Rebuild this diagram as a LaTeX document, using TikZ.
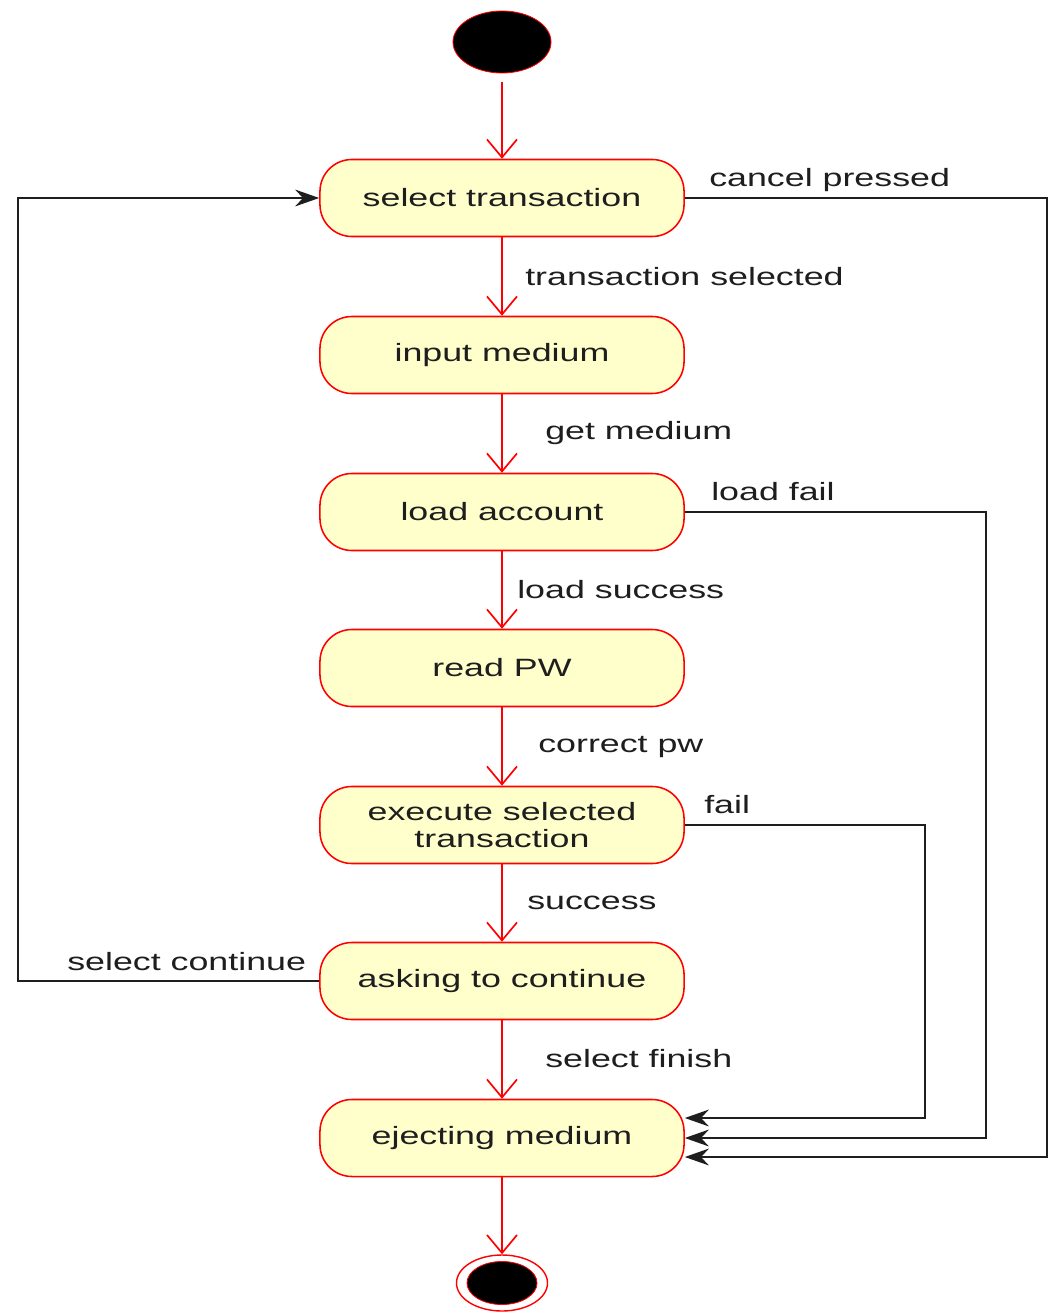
\documentclass[tikz,border=0pt]{standalone}
\usepackage{graphicx}
\usepackage{fontspec}
\setmainfont{Liberation Sans}
\usetikzlibrary{arrows.meta,shapes.geometric,calc}
\definecolor{stfill}{RGB}{255,255,204}
\definecolor{txt}{RGB}{30,30,30}
\newcommand\stxt[1]{\scalebox{1.43}[1]{#1}}
\newcommand\ltxt[1]{\raisebox{-1.5pt}{\scalebox{1.43}[1]{#1}}}
\tikzset{
  state/.style={draw=red, fill=stfill, line width=1.1pt, rounded corners=0.8cm,
    minimum width=9.1cm, minimum height=1.925cm, inner sep=0pt, text=txt,
    font=\fontsize{17.8}{19.4}\selectfont, align=center},
  flow/.style={draw=red, line width=1.2pt, -{Straight Barb[length=0.45cm,width=0.75cm]}},
  back/.style={draw=txt, line width=1.3pt, -{Stealth[length=0.6cm,width=0.42cm]}},
  lbl/.style={font=\fontsize{17.8}{19.4}\selectfont, text=txt, inner sep=0pt, anchor=west},
}
\begin{document}
\begin{tikzpicture}[x=0.025cm,y=-0.025cm]
\useasboundingbox[fill=white] (0,0) rectangle (1051,1312);
% states
\node[ellipse, fill=black, draw=red, line width=0.6pt, minimum width=2.45cm, minimum height=1.55cm, inner sep=0pt] (init) at (502,42) {};
\node[state] (st) at (502,198) {\ltxt{select transaction}};
\node[state] (in) at (502,355) {\ltxt{input medium}};
\node[state] (la) at (502,512) {\ltxt{load account}};
\node[state] (rp) at (502,668) {\ltxt{read PW}};
\node[state] (ex) at (502,825) {\stxt{execute selected}\\\stxt{transaction}};
\node[state] (ask) at (502,981) {\ltxt{asking to continue}};
\node[state] (ej) at (502,1138) {\ltxt{ejecting medium}};
\node[ellipse, fill=white, draw=red, line width=1pt, minimum width=2.275cm, minimum height=1.4cm, inner sep=0pt] (fin) at (502,1283) {};
\node[ellipse, fill=black, draw=red, line width=0.6pt, minimum width=1.75cm, minimum height=1.075cm, inner sep=0pt] (fincore) at (502,1283) {};
% main flow
\draw[flow, shorten <=0.22cm] (init.south) -- (st.north);
\draw[flow] (st.south) -- (in.north);
\draw[flow] (in.south) -- (la.north);
\draw[flow] (la.south) -- (rp.north);
\draw[flow] (rp.south) -- (ex.north);
\draw[flow] (ex.south) -- (ask.north);
\draw[flow] (ask.south) -- (ej.north);
\draw[flow] (ej.south) -- (fin.north);
% flow labels
\node[lbl] (l1) at (525,277) {\ltxt{transaction selected}};
\node[lbl] (l2) at (545,433) {\ltxt{get medium}};
\node[lbl] (l3) at (517,590) {\ltxt{load success}};
\node[lbl] (l4) at (538,747) {\ltxt{correct pw}};
\node[lbl] (l5) at (527,903) {\ltxt{success}};
\node[lbl] (l6) at (545,1059) {\ltxt{select finish}};
% side connectors
\draw[back] (st.east) -| (1047,1157) -- ($(ej.east)+(0,19)$);
\draw[back] (la.east) -| (986,1138) -- (ej.east);
\draw[back] (ex.east) -| (925,1118) -- ($(ej.east)+(0,-20)$);
\draw[back] (ask.west) -- (18,981) |- (st.west);
\node[lbl] (c1) at (709,180) {\ltxt{cancel pressed}};
\node[lbl] (c2) at (711,492) {\ltxt{load fail}};
\node[lbl] (c3) at (704,805) {\ltxt{fail}};
\node[lbl] (c4) at (67,962) {\ltxt{select continue}};
\end{tikzpicture}
\end{document}
